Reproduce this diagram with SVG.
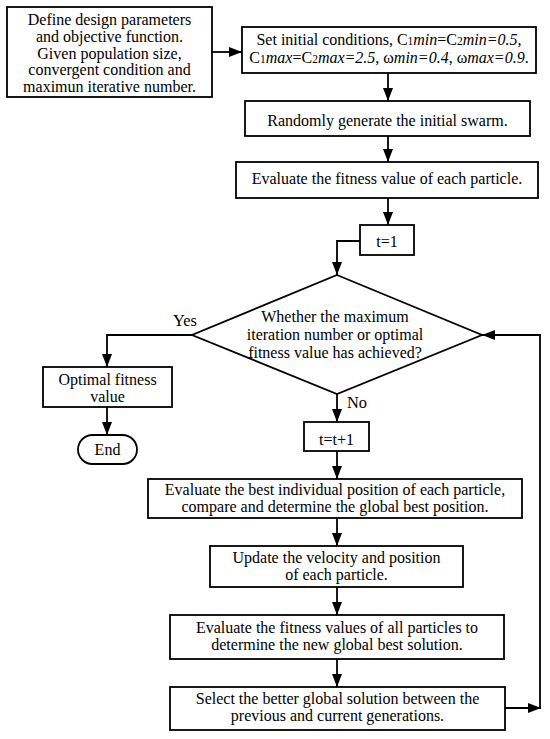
<svg xmlns="http://www.w3.org/2000/svg" width="550" height="739" viewBox="0 0 550 739">
<style>
.box{fill:#fff;stroke:#000;stroke-width:1.8}
.t{font-family:"Liberation Serif","Times New Roman",serif;font-size:16px;fill:#000;text-anchor:middle}
.l{font-family:"Liberation Serif","Times New Roman",serif;font-size:16.4px;fill:#000}
.c{fill:none;stroke:#000;stroke-width:1.8}
.s{font-size:11.5px}
.i{font-style:italic}
</style>
<defs>
<marker id="ah" markerUnits="userSpaceOnUse" markerWidth="14" markerHeight="10" refX="13" refY="5" orient="auto">
<path d="M0,0 L13,5 L0,10 Z" fill="#000"/>
</marker>
</defs>
<rect width="550" height="739" fill="#fff"/>
<g id="connectors">
<path class="c" d="M212,52 H242" marker-end="url(#ah)"/>
<path class="c" d="M388,73 V101" marker-end="url(#ah)"/>
<path class="c" d="M388,136 V162" marker-end="url(#ah)"/>
<path class="c" d="M388,198 V225" marker-end="url(#ah)"/>
<path class="c" d="M360,241 H337 V275" marker-end="url(#ah)"/>
<path class="c" d="M192,335 H107 V367" marker-end="url(#ah)"/>
<path class="c" d="M107,407 V435" marker-end="url(#ah)"/>
<path class="c" d="M337,394 V422" marker-end="url(#ah)"/>
<path class="c" d="M337,451 V479" marker-end="url(#ah)"/>
<path class="c" d="M337,518 V546" marker-end="url(#ah)"/>
<path class="c" d="M337,587 V615" marker-end="url(#ah)"/>
<path class="c" d="M337,659 V687" marker-end="url(#ah)"/>
<path class="c" d="M505,708 H541" marker-end="url(#ah)"/>
<path class="c" d="M540,708 V335 H482" marker-end="url(#ah)"/>
<text class="l" x="185" y="325.5" text-anchor="middle">Yes</text>
<text class="l" x="347" y="407.5">No</text>
</g>
<g id="define">
<rect class="box" x="7" y="7" width="205" height="90"/>
<text class="t" x="109.5" y="25">Define design parameters</text>
<text class="t" x="109.5" y="41.75">and objective function.</text>
<text class="t" x="109.5" y="58.5">Given population size,</text>
<text class="t" x="109.5" y="75.25">convergent condition and</text>
<text class="t" x="109.5" y="92">maximun iterative number.</text>
</g>
<g id="init">
<rect class="box" x="242" y="27" width="294" height="46"/>
<text class="t" x="389" y="45">Set initial conditions, C<tspan class="s">1</tspan><tspan class="i">min</tspan>=C<tspan class="s">2</tspan><tspan class="i">min=0.5,</tspan></text>
<text class="t" x="389" y="63">C<tspan class="s">1</tspan><tspan class="i">max</tspan>=C<tspan class="s">2</tspan><tspan class="i">max=2.5</tspan>, ω<tspan class="i">min=0.4</tspan>, ω<tspan class="i">max=0.9</tspan>.</text>
</g>
<g id="swarm">
<rect class="box" x="245" y="101" width="285" height="35"/>
<text class="t" x="387.5" y="125.5">Randomly generate the initial swarm.</text>
</g>
<g id="evalfit">
<rect class="box" x="236" y="162" width="302" height="36"/>
<text class="t" x="387" y="184">Evaluate the fitness value of each particle.</text>
</g>
<g id="t1">
<rect class="box" x="360" y="225" width="54" height="30"/>
<text class="t" x="387" y="247">t=1</text>
</g>
<g id="decision">
<polygon class="box" points="337,275 482,335 337,394 192,335"/>
<text class="t" x="335" y="322">Whether the maximum</text>
<text class="t" x="335" y="340">iteration number or optimal</text>
<text class="t" x="335" y="357.5">fitness value has achieved?</text>
</g>
<g id="optimal">
<rect class="box" x="43" y="367" width="129" height="40"/>
<text class="t" x="107.5" y="384.5">Optimal fitness</text>
<text class="t" x="107.5" y="401.5">value</text>
</g>
<g id="end">
<rect class="box" x="78" y="435" width="59" height="29" rx="14.5" ry="14.5"/>
<text class="t" x="107.5" y="455">End</text>
</g>
<g id="tinc">
<rect class="box" x="304" y="422" width="65" height="29"/>
<text class="t" x="336.5" y="445">t=t+1</text>
</g>
<g id="best">
<rect class="box" x="148" y="479" width="374" height="39"/>
<text class="t" x="335" y="495">Evaluate the best individual position of each particle,</text>
<text class="t" x="335" y="512">compare and determine the global best position.</text>
</g>
<g id="update">
<rect class="box" x="210" y="546" width="253" height="41"/>
<text class="t" x="336.5" y="563">Update the velocity and position</text>
<text class="t" x="336.5" y="580">of each particle.</text>
</g>
<g id="evalall">
<rect class="box" x="170" y="615" width="334" height="44"/>
<text class="t" x="337" y="633">Evaluate the fitness values of all particles to</text>
<text class="t" x="337" y="650">determine the new global best solution.</text>
</g>
<g id="select">
<rect class="box" x="170" y="687" width="335" height="43"/>
<text class="t" x="337.5" y="703.5">Select the better global solution between the</text>
<text class="t" x="337.5" y="720.5">previous and current generations.</text>
</g>
</svg>
